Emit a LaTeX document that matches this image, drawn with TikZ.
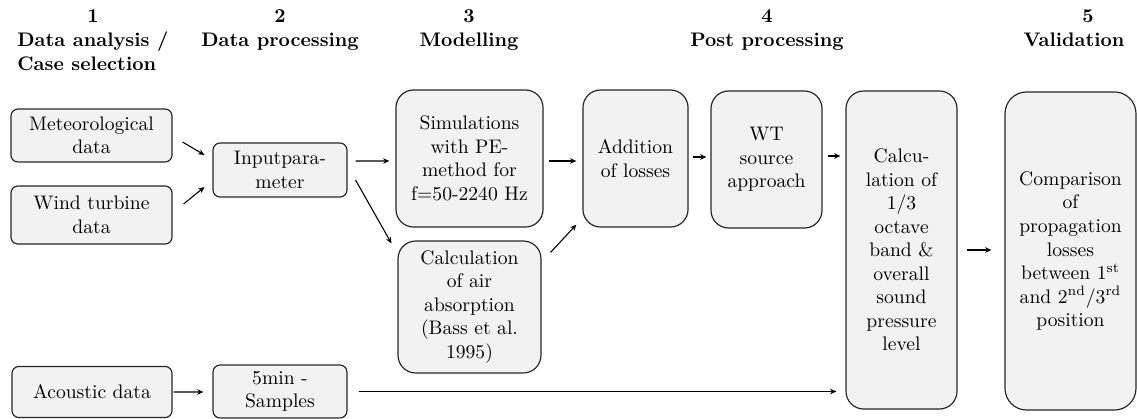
\documentclass[tikz,border=0pt]{standalone}
\usepackage{fontspec}
\usetikzlibrary{calc,arrows.meta}
\definecolor{boxfill}{HTML}{F2F2F2}
\begin{document}
\begin{tikzpicture}[x=0.51pt,y=-0.51pt,
  box/.style={draw=black!85, line width=0.6pt, fill=boxfill, align=center, inner sep=0pt, font=\fontsize{10}{12}\selectfont},
  sbox/.style={box, rounded corners=3.5pt},
  bbox/.style={box, rounded corners=9pt},
  arr/.style={-{Stealth[length=3.2pt,width=2.8pt]}, line width=0.55pt, black},
  hd/.style={font=\fontsize{10}{12}\selectfont\bfseries, anchor=base, inner sep=0pt}]
\useasboundingbox (0,0) rectangle (1137,419);

% headers
\node[hd] (h1n) at (93,22) {1};
\node[hd, anchor=base west] (h1a) at (17,46) {Data analysis /};
\node[hd, anchor=base west] (h1b) at (17,70) {Case selection};
\node[hd] (h2n) at (280,22) {2};
\node[hd] (h2a) at (280,46) {Data processing};
\node[hd] (h3n) at (469,22) {3};
\node[hd] (h3a) at (469,46) {Modelling};
\node[hd] (h4n) at (767,22) {4};
\node[hd] (h4a) at (767,46) {Post processing};
\node[hd] (h5n) at (1088,22) {5};
\node[hd] (h5a) at (1074,46) {Validation};

% boxes
\node[sbox, minimum width=82.1pt, minimum height=27pt] (meteo) at (91.5,135.5) {Meteorological\\data};
\node[sbox, minimum width=82.1pt, minimum height=29.6pt] (wind) at (91.5,215) {Wind turbine\\data};
\node[sbox, minimum width=81.6pt, minimum height=26pt] (acou) at (92,392) {Acoustic data};
\node[sbox, minimum width=68.3pt, minimum height=27.5pt] (input) at (280,170) {Inputpara-\\meter};
\node[sbox, minimum width=68.3pt, minimum height=27pt] (samp) at (280,391.5) {5min -\\Samples};
\node[bbox, minimum width=75pt, minimum height=69.9pt] (sim) at (469.5,158.5) {Simulations\\with PE-\\method for\\f=50-2240 Hz};
\node[bbox, minimum width=72.9pt, minimum height=67.3pt] (air) at (469.5,307) {Calculation\\of air\\absorption\\(Bass et al.\\1995)};
\node[bbox, minimum width=53.6pt, minimum height=69.9pt] (add) at (635.5,158.5) {Addition\\of losses};
\node[bbox, minimum width=56.6pt, minimum height=69.9pt] (wt) at (766.5,159.5) {WT\\source\\approach};
\node[bbox, minimum width=56.6pt, minimum height=162.2pt] (oct) at (901.5,250) {Calcu-\\lation of\\1/3\\octave\\band \&\\overall\\sound\\pressure\\level};
\node[box, rounded corners=11pt, minimum width=66.8pt, minimum height=162.2pt] (comp) at (1070.5,251) {Comparison\\of\\propagation\\losses\\between 1\textsuperscript{st}\\and 2\textsuperscript{nd}/3\textsuperscript{rd}\\position};

% connectors
\draw[arr] ($(meteo.east)+(10,6.5)$) -- ($(input.west)+(-8,-15)$);
\draw[arr] ($(wind.east)+(11,-11)$) -- ($(input.west)+(-8,17)$);
\draw[arr] ($(input.east)+(8,-9)$) -- ($(sim.west)+(-6,2.5)$);
\draw[arr] ($(input.east)+(8,10)$) -- ($(air.north west)+(-6,3)$);
\draw[arr] ($(sim.east)+(5,2.5)$) -- ($(add.west)+(-6,2.5)$);
\draw[arr] ($(air.north east)+(9,12)$) -- ($(add.south west)+(-6,-3)$);
\draw[arr] ($(add.east)+(4,-1.5)$) -- ($(wt.west)+(-4,-2.5)$);
\draw[arr] ($(wt.east)+(5,-3.5)$) -- ($(oct.west)+(-5,-94)$);
\draw[arr] ($(oct.east)+(9,0)$) -- ($(comp.west)+(-13,-1)$);
\draw[arr] ($(acou.east)+(1,0)$) -- ($(samp.west)+(-9,0.5)$);
\draw[arr] ($(samp.east)+(11,0)$) -- ($(samp.east -| oct.west)+(-9,0)$);
\end{tikzpicture}
\end{document}
